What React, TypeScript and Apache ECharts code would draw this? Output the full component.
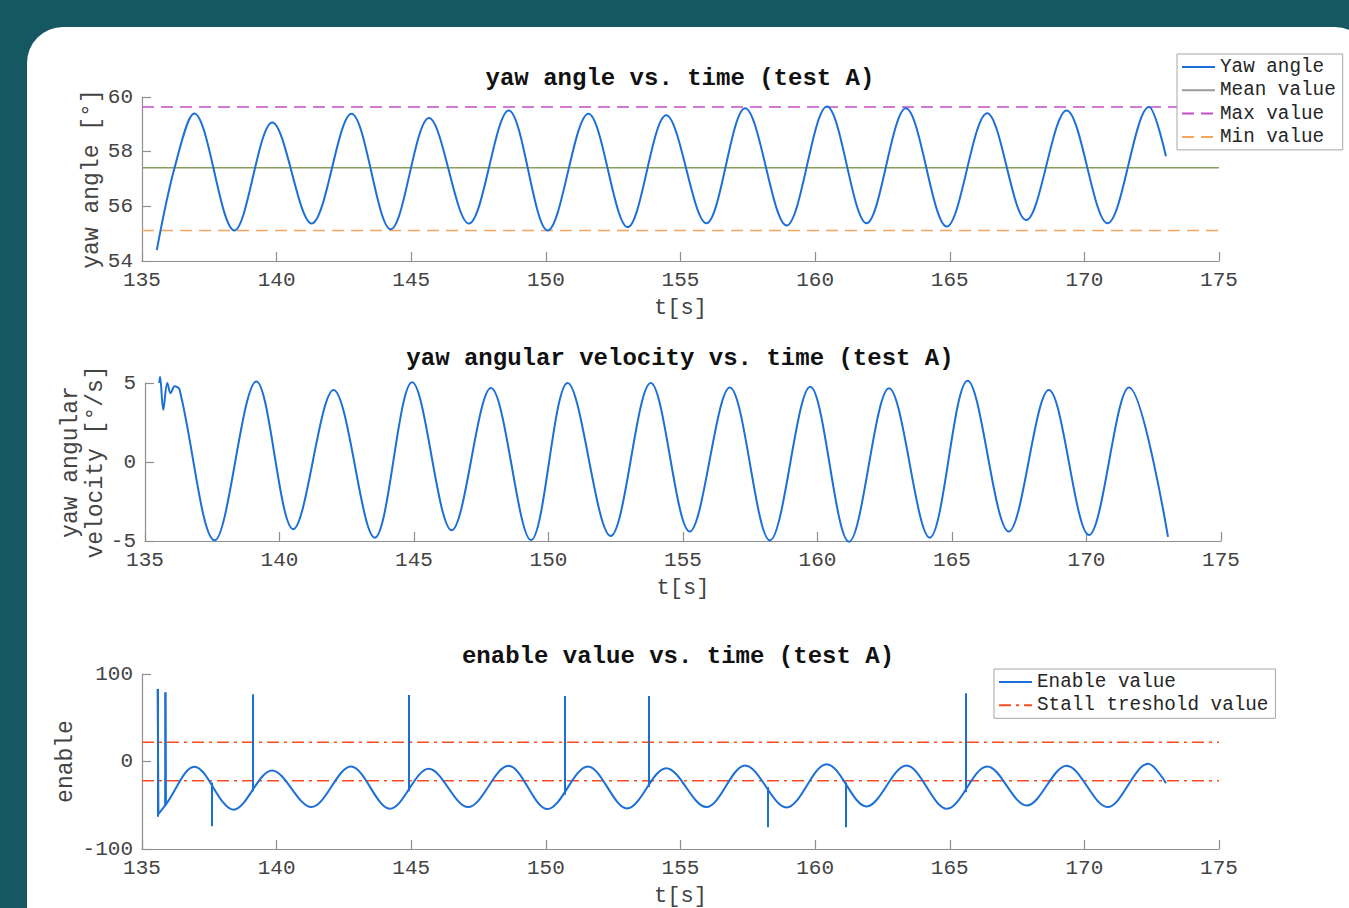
import React, { useEffect, useRef } from "react";
import * as echarts from "echarts";

// ---------- data ----------
const timeTicks = { min: 135, max: 175, step: 5 };

// yaw angle [deg] vs time [s] (start, first mean crossing, then turning points, end)
const angleT = [
  135.55, 136.21, 136.94, 138.43, 139.84, 141.3, 142.78, 144.24, 145.66, 147.14,
  148.62, 150.07, 151.58, 153.04, 154.47, 155.96, 157.4, 158.94, 160.44, 161.91,
  163.37, 164.89, 166.39, 167.84, 169.34, 170.86, 172.4, 173.03,
];
const angleV = [
  54.4, 57.41, 59.4, 55.12, 59.07, 55.37, 59.39, 55.16, 59.23, 55.37,
  59.51, 55.12, 59.39, 55.24, 59.33, 55.38, 59.59, 55.3, 59.65, 55.38,
  59.59, 55.26, 59.41, 55.5, 59.51, 55.38, 59.63, 57.83,
];
const angleMean = 57.41;
const angleMax = 59.63;
const angleMin = 55.12;

// yaw angular velocity [deg/s] vs time [s] (noisy start, then turning points, end)
const velT = [
  135.53, 135.56, 135.68, 135.83, 135.95, 136.1, 136.28, 137.59, 139.14, 140.51,
  142.01, 143.54, 144.93, 146.4, 147.86, 149.35, 150.71, 152.31, 153.8, 155.25,
  156.74, 158.23, 159.73, 161.17, 162.66, 164.17, 165.58, 167.11, 168.6, 170.09,
  171.58, 173.03,
];
const velV = [
  5.0, 5.4, 3.3, 5.0, 4.35, 4.8, 4.6, -4.96, 5.1, -4.25,
  4.55, -4.79, 5.04, -4.32, 4.68, -4.94, 5.0, -4.68, 5.0, -4.4,
  4.72, -4.96, 4.76, -5.04, 4.66, -4.79, 5.15, -4.4, 4.55, -4.62,
  4.72, -4.74,
];

// enable value vs time [s] (start, then turning points, end)
const enableT = [
  135.61, 135.89, 136.95, 138.4, 139.83, 141.29, 142.76, 144.21, 145.65, 147.11,
  148.61, 150.06, 151.56, 153.02, 154.47, 155.96, 157.4, 158.94, 160.43, 161.91,
  163.39, 164.9, 166.39, 167.86, 169.34, 170.86, 172.37, 173.03,
];
const enableV = [
  -60, -49, -6, -55, -10.3, -52.1, -5.7, -54, -8.4, -52.1,
  -4.9, -54.4, -5.7, -53.6, -7.6, -52.1, -4.6, -52.5, -3, -51.3,
  -4.6, -54, -5.7, -50.2, -4.9, -52.1, -2.7, -24.7,
];
// single-sample spikes of the enable value (segment start -> end)
const spikeFromT = [135.57, 135.58, 135.86, 135.87, 137.6, 139.13, 144.91, 150.69, 153.81, 158.23, 161.15, 165.58];
const spikeFromV = [-63, 83, -51, 79, -24, -34, -34, -38, -29, -29, -24, -35];
const spikeToT = [135.58, 135.61, 135.87, 135.89, 137.6, 139.13, 144.91, 150.69, 153.81, 158.23, 161.15, 165.58];
const spikeToV = [83, -60, 79, -49, -74, 77, 76, 75, 75, -75, -75, 78];
const stallThreshold = 22;

// ---------- styling ----------
const MONO = '"Liberation Mono", "DejaVu Sans Mono", monospace';
const BLUE = "#1c6fd6";
const AXIS = "#8f8f8f";
const LABEL = "#444444";
const TEAL = "#155863";
const SMOOTH = 0.34;

const zip = (a: number[], b: number[]) => a.map((v, i) => [v, b[i]]);

function xAxisCfg(gridIndex: number) {
  return {
    type: "value",
    gridIndex,
    min: timeTicks.min,
    max: timeTicks.max,
    interval: timeTicks.step,
    name: "t[s]",
    nameLocation: "middle",
    nameGap: 36,
    nameMoveOverlap: false,
    nameTextStyle: { fontFamily: MONO, fontSize: 22, color: LABEL },
    axisLine: { show: true, onZero: false, lineStyle: { color: AXIS, width: 1.2 } },
    axisTick: { show: true, inside: true, length: 9, lineStyle: { color: AXIS, width: 1.2 } },
    axisLabel: { fontFamily: MONO, fontSize: 21, color: LABEL, margin: 9 },
    splitLine: { show: false },
  };
}

function yAxisCfg(gridIndex: number, min: number, max: number, interval: number, name: string, nameGap: number) {
  return {
    type: "value",
    gridIndex,
    min,
    max,
    interval,
    name,
    nameLocation: "middle",
    nameGap,
    nameMoveOverlap: false,
    nameTextStyle: { fontFamily: MONO, fontSize: 23, color: LABEL, lineHeight: 25 },
    axisLine: { show: true, lineStyle: { color: AXIS, width: 1.2 } },
    axisTick: { show: true, inside: true, length: 9, lineStyle: { color: AXIS, width: 1.2 } },
    axisLabel: { fontFamily: MONO, fontSize: 21, color: LABEL, margin: 9 },
    splitLine: { show: false },
  };
}

function flatLine(name: string, value: number, xi: number, color: string, type: any, width: number) {
  return {
    name,
    type: "line",
    xAxisIndex: xi,
    yAxisIndex: xi,
    symbol: "none",
    silent: true,
    data: [
      [timeTicks.min, value],
      [timeTicks.max, value],
    ],
    lineStyle: { color, width, type },
    itemStyle: { color },
    z: 2,
  };
}

const titleStyle = { fontFamily: MONO, fontSize: 24, fontWeight: "bold", color: "#111" };

const legendBase = {
  orient: "vertical",
  padding: [3, 7, 3, 4],
  itemWidth: 33,
  itemHeight: 14,
  itemGap: 3.3,
  borderColor: "#a6a6a6",
  borderWidth: 1,
  borderRadius: 0,
  backgroundColor: "#ffffff",
  selectedMode: false,
  itemStyle: { opacity: 0 },
  textStyle: { fontFamily: MONO, fontSize: 19.3, color: "#262626", lineHeight: 20 },
};

const option: any = {
  animation: false,
  backgroundColor: "transparent",
  title: [
    { text: "yaw angle vs. time (test A)", left: 680, top: 66, textAlign: "center", padding: 0, textStyle: titleStyle },
    { text: "yaw angular velocity vs. time (test A)", left: 680, top: 346, textAlign: "center", padding: 0, textStyle: titleStyle },
    { text: "enable value vs. time (test A)", left: 678, top: 644, textAlign: "center", padding: 0, textStyle: titleStyle },
  ],
  legend: [
    {
      ...legendBase,
      left: 1177,
      top: 54,
      data: ["Yaw angle", { name: "Mean value", lineStyle: { color: "#9a9a9a" } }, "Max value", "Min value"],
    },
    {
      ...legendBase,
      left: 994,
      top: 669,
      data: ["Enable value", "Stall treshold value"],
    },
  ],
  grid: [
    { left: 142, top: 97, width: 1077, height: 164 },
    { left: 145, top: 383, width: 1076, height: 158 },
    { left: 142, top: 674, width: 1077, height: 175 },
  ],
  xAxis: [xAxisCfg(0), xAxisCfg(1), xAxisCfg(2)],
  yAxis: [
    yAxisCfg(0, 54, 60, 2, "yaw angle [°]", 38),
    yAxisCfg(1, -5, 5, 5, "yaw angular\nvelocity [°/s]", 37),
    yAxisCfg(2, -100, 100, 100, "enable", 64),
  ],
  series: [
    {
      name: "Yaw angle",
      type: "line",
      xAxisIndex: 0,
      yAxisIndex: 0,
      symbol: "none",
      smooth: SMOOTH,
      data: zip(angleT, angleV),
      lineStyle: { color: BLUE, width: 2 },
      itemStyle: { color: BLUE },
      z: 3,
    },
    flatLine("Mean value", angleMean, 0, "#86a05a", "solid", 1.6),
    flatLine("Max value", angleMax, 0, "#c44cc8", [12, 7], 1.5),
    flatLine("Min value", angleMin, 0, "#f6a45e", [12, 7], 1.5),
    {
      name: "Yaw angular velocity",
      type: "line",
      xAxisIndex: 1,
      yAxisIndex: 1,
      symbol: "none",
      smooth: SMOOTH,
      clip: false,
      data: zip(velT, velV),
      lineStyle: { color: BLUE, width: 2 },
      itemStyle: { color: BLUE },
    },
    flatLine("Stall treshold value", stallThreshold, 2, "#ff4b1f", [12, 5, 3, 5], 1.6),
    flatLine("Stall treshold value", -stallThreshold, 2, "#ff4b1f", [12, 5, 3, 5], 1.6),
    {
      name: "Enable value",
      type: "line",
      xAxisIndex: 2,
      yAxisIndex: 2,
      symbol: "none",
      smooth: SMOOTH,
      data: zip(enableT, enableV),
      lineStyle: { color: BLUE, width: 2 },
      itemStyle: { color: BLUE },
      z: 3,
      markLine: {
        silent: true,
        symbol: ["none", "none"],
        label: { show: false },
        emphasis: { disabled: true },
        lineStyle: { color: BLUE, width: 2, type: "solid" },
        data: spikeFromT.map((t, i) => [
          { coord: [t, spikeFromV[i]] },
          { coord: [spikeToT[i], spikeToV[i]] },
        ]),
      },
    },
  ],
};

export default function App() {
  const ref = useRef<HTMLDivElement>(null);
  useEffect(() => {
    const chart = echarts.init(ref.current as HTMLDivElement, null, { renderer: "svg" });
    chart.setOption(option);
    return () => chart.dispose();
  }, []);
  return (
    <div style={{ position: "fixed", left: 0, top: 0, width: 1349, height: 908, background: TEAL, overflow: "hidden" }}>
      <div
        style={{ position: "absolute", left: 27, top: 27, width: 1344, height: 1000, background: "#ffffff", borderRadius: 36 }}
      />
      <div ref={ref} style={{ position: "absolute", left: 0, top: 0, width: 1349, height: 908 }} />
    </div>
  );
}
